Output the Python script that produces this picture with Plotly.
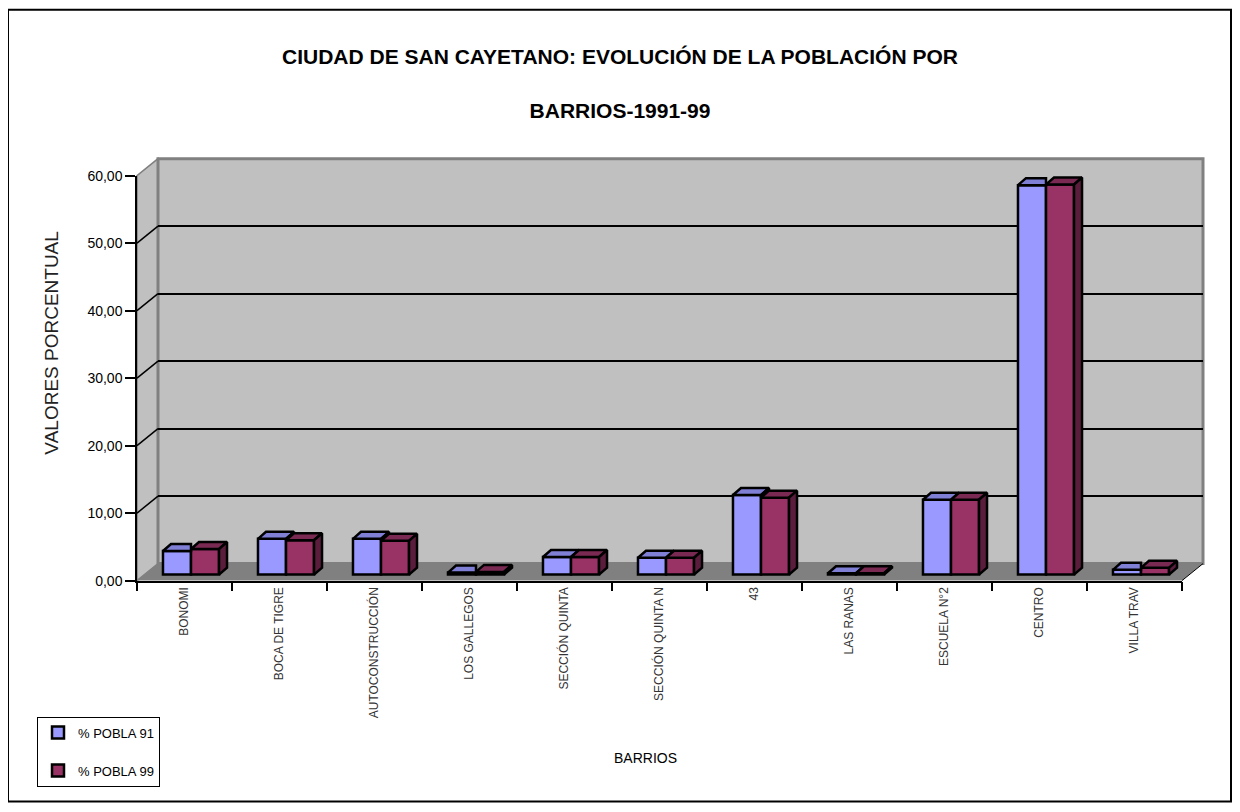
import plotly.graph_objects as go

# ---------------- data ----------------
categories = ["BONOMI", "BOCA DE TIGRE", "AUTOCONSTRUCCIÓN", "LOS GALLEGOS", "SECCIÓN QUINTA",
              "SECCIÓN QUINTA N", "43", "LAS RANAS", "ESCUELA N°2", "CENTRO", "VILLA TRAV"]
pobla_91 = [3.5, 5.3, 5.3, 0.3, 2.6, 2.5, 11.8, 0.2, 11.1, 57.7, 0.7]
pobla_99 = [3.8, 5.1, 5.0, 0.4, 2.6, 2.5, 11.4, 0.2, 11.1, 57.8, 1.0]
series_names = ["% POBLA 91", "% POBLA 99"]
y_ticks = [0, 10, 20, 30, 40, 50, 60]
title_line1 = "CIUDAD DE SAN CAYETANO: EVOLUCIÓN DE LA POBLACIÓN POR"
title_line2 = "BARRIOS-1991-99"
x_title = "BARRIOS"
y_title = "VALORES PORCENTUAL"

# ---------------- geometry / style ----------------
OFF = 8                      # page body margin
W, H = 1240 - 2 * OFF, 812 - 2 * OFF
SY_A, SY_B = 0.98, 7.5       # observed vertical mapping correction
FONT = "Liberation Sans, Arial, sans-serif"
FL, FR = 137, 1182          # front plane x extent (px)
FB, FT = 580, 175           # front plane y of 0 and 60 (px)
PPU = (FB - FT) / 60.0      # px per unit
DX, DY = 21, -17            # depth of the 3D box (px)
BSX, BSY = 6.5, -6          # bar plane shift (px)
BAR_DX_PX, BAR_DY_PX = 8, -7
BAR_W = 0.295
BLUE, BLUE_TOP, BLUE_SIDE = "#9999FF", "#7F7FD6", "#6666B0"
RED, RED_TOP, RED_SIDE = "#993366", "#7A2952", "#5A1D3C"
WALL, FLOOR, EDGE = "#C0C0C0", "#808080", "#808080"


def fx(p):
    return (p - OFF) / W


def fy(p):
    q = (p - SY_B) / SY_A
    return 1 - (q - OFF) / H


n = len(categories)
xs = list(range(n))
slot_px = (FR - FL) / n
ddx = BAR_DX_PX / slot_px
ddy = -BAR_DY_PX / PPU

fig = go.Figure()

# anchor traces so the wall and front-axis subplots are drawn
fig.add_trace(go.Scatter(x=[None], y=[None], xaxis="x", yaxis="y", showlegend=False, hoverinfo="skip"))
fig.add_trace(go.Scatter(x=[None], y=[None], xaxis="x2", yaxis="y2", showlegend=False, hoverinfo="skip"))

# front faces of the bars (bar plane = x3/y3)
for name, vals, col, off in [(series_names[0], pobla_91, BLUE, -BAR_W),
                             (series_names[1], pobla_99, RED, 0.0)]:
    fig.add_trace(go.Bar(
        x=xs, y=vals, name=name, width=BAR_W, offset=off,
        marker=dict(color=col, line=dict(color="black", width=2.5)),
        xaxis="x3", yaxis="y3", legendgroup=name, hoverinfo="name+y"))


def poly_trace(px, py, fill):
    return go.Scatter(x=px, y=py, mode="lines", fill="toself", fillcolor=fill,
                      line=dict(color="black", width=2.5), xaxis="x3", yaxis="y3",
                      showlegend=False, hoverinfo="skip")


# blue top faces and visible part of blue side faces
bt_x, bt_y, bs_x, bs_y = [], [], [], []
for i, (vb, vr) in enumerate(zip(pobla_91, pobla_99)):
    xl, xr = i - BAR_W, i
    xr_top = xr + ddx if vb >= vr else xr
    bt_x += [xl, xl + ddx, xr_top, xr, xl, None]
    bt_y += [vb, vb + ddy, vb + ddy, vb, vb, None]
    if vb > vr:
        bs_x += [xr, xr + ddx, xr + ddx, xr, xr, None]
        bs_y += [vr, vr + ddy, vb + ddy, vb, vr, None]
fig.add_trace(poly_trace(bt_x, bt_y, BLUE_TOP))
if bs_x:
    fig.add_trace(poly_trace(bs_x, bs_y, BLUE_SIDE))

# red top and side faces
rt_x, rt_y, rs_x, rs_y = [], [], [], []
for i, vr in enumerate(pobla_99):
    xl, xr = i, i + BAR_W
    rt_x += [xl, xl + ddx, xr + ddx, xr, xl, None]
    rt_y += [vr, vr + ddy, vr + ddy, vr, vr, None]
    rs_x += [xr, xr + ddx, xr + ddx, xr, xr, None]
    rs_y += [0, ddy, vr + ddy, vr, 0, None]
fig.add_trace(poly_trace(rt_x, rt_y, RED_TOP))
fig.add_trace(poly_trace(rs_x, rs_y, RED_SIDE))

# ---------------- decorations (walls, floor, frame) ----------------
shapes = []
shapes.append(dict(type="rect", xref="paper", yref="paper", x0=fx(8), x1=fx(1231), y0=fy(801), y1=fy(9),
                   line=dict(color="black", width=2), fillcolor="rgba(0,0,0,0)", layer="below"))
shapes.append(dict(type="path", xref="paper", yref="paper",
                   path=f"M {fx(FL)},{fy(FB)} L {fx(FL)},{fy(FT)} L {fx(FL+DX)},{fy(FT+DY)} L {fx(FL+DX)},{fy(FB+DY)} Z",
                   fillcolor=WALL, line=dict(color=EDGE, width=1.5), layer="below"))
shapes.append(dict(type="rect", xref="paper", yref="paper", x0=fx(FL + DX), x1=fx(FR + DX),
                   y0=fy(FB + DY), y1=fy(FT + DY), fillcolor=WALL,
                   line=dict(color=EDGE, width=3), layer="below"))
shapes.append(dict(type="path", xref="paper", yref="paper",
                   path=f"M {fx(FL)},{fy(FB)} L {fx(FR)},{fy(FB)} L {fx(FR+DX)},{fy(FB+DY)} L {fx(FL+DX)},{fy(FB+DY)} Z",
                   fillcolor=FLOOR, line=dict(width=0), layer="below"))
shapes.append(dict(type="line", xref="paper", yref="paper", x0=fx(FR), y0=fy(FB), x1=fx(FR + DX), y1=fy(FB + DY),
                   line=dict(color="black", width=1), layer="below"))
for v in y_ticks[1:-1]:
    yp = FB - v * PPU
    shapes.append(dict(type="line", xref="paper", yref="paper", x0=fx(FL), y0=fy(yp),
                       x1=fx(FL + DX), y1=fy(yp + DY), line=dict(color="black", width=1.5), layer="below"))

# bar-plane y range/domain
b_lo, b_hi = -0.6, 61
b_zero = FB + BSY
b_dom = [fy(b_zero - b_lo * PPU), fy(b_zero - b_hi * PPU)]

fig.update_layout(
    width=W, height=H, autosize=False,
    margin=dict(l=0, r=0, t=0, b=0),
    paper_bgcolor="white", plot_bgcolor="rgba(0,0,0,0)",
    separators=",.",
    font=dict(family=FONT, color="black"),
    barmode="overlay",
    showlegend=True,
    title=dict(text=title_line1 + "<br><br>" + title_line2, x=fx(620), xanchor="center",
               y=fy(70), yanchor="top", font=dict(family=FONT, size=21, color="black", weight="bold")),
    xaxis=dict(domain=[fx(FL + DX), fx(FR + DX)], range=[-0.5, n - 0.5], anchor="y",
               showgrid=False, zeroline=False, showticklabels=False, showline=False, ticks=""),
    yaxis=dict(domain=[fy(FB + DY), fy(FT + DY)], range=[0, 60], anchor="x",
               tickmode="array", tickvals=y_ticks[1:-1], showgrid=True, gridcolor="black", gridwidth=1.5,
               zeroline=False, showticklabels=False, showline=False, ticks=""),
    xaxis2=dict(domain=[fx(FL), fx(FR)], range=[-0.5, n - 0.5], anchor="y2",
                tickmode="array", tickvals=xs, ticktext=categories, ticks="", tickangle=-90,
                tickfont=dict(size=12, color="#333333"),
                showline=True, linecolor="black", linewidth=1.5, showgrid=False, zeroline=False,
                minor=dict(tickmode="array", tickvals=[i - 0.5 for i in range(n + 1)], ticks="outside",
                           ticklen=9, tickwidth=1.5, tickcolor="black", showgrid=False)),
    yaxis2=dict(domain=[fy(FB), fy(FT)], range=[0, 60], anchor="x2",
                tickmode="array", tickvals=y_ticks, tickformat=".2f", ticks="outside", ticklen=10,
                tickwidth=1.5, tickcolor="black", tickfont=dict(size=14, color="black"),
                showline=True, linecolor="black", linewidth=1.5, showgrid=False, zeroline=False),
    xaxis3=dict(domain=[fx(FL + BSX), fx(FR + BSX)], range=[-0.5, n - 0.5], anchor="y3", visible=False),
    yaxis3=dict(domain=b_dom, range=[b_lo, b_hi], anchor="x3", visible=False),
    legend=dict(x=fx(37), y=fy(716), xanchor="left", yanchor="top", bgcolor="white",
                bordercolor="black", borderwidth=1, font=dict(size=13, color="black"),
                tracegroupgap=18, itemwidth=30),
    shapes=shapes,
    annotations=[
        dict(text=x_title, xref="paper", yref="paper", x=fx(645), y=fy(757), showarrow=False,
             xanchor="center", yanchor="middle", font=dict(size=14, color="black")),
        dict(text=y_title, xref="paper", yref="paper", x=fx(52), y=fy(343), showarrow=False,
             textangle=-90, xanchor="center", yanchor="middle", font=dict(size=19, color="#222222")),
    ],
)

fig.write_html("out.html")
